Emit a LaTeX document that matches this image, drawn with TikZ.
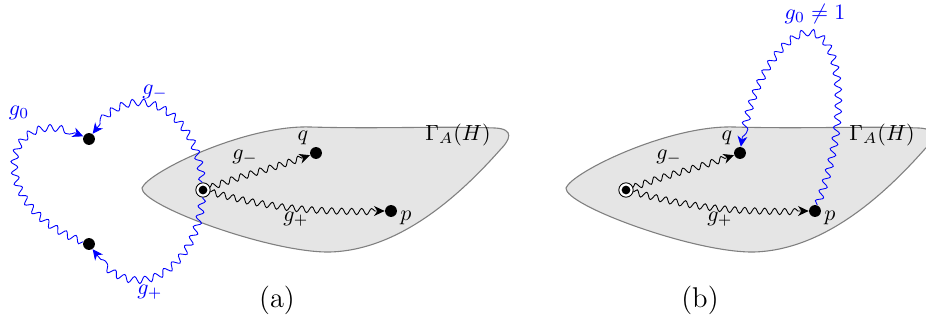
\documentclass[tikz,border=0pt]{standalone}
\usepackage{amsmath,amssymb}
\usepackage{tikz}
\usetikzlibrary{arrows.meta,decorations.pathmorphing}

\begin{document}
\begin{tikzpicture}[x=0.016cm, y=-0.016cm,
    dot/.style={circle, fill=black, inner sep=0pt, minimum size=1.9mm},
    basept/.style={circle, draw=black, fill=white, inner sep=0pt, minimum size=2.3mm,
        path picture={\fill[black] (path picture bounding box.center) circle (0.7mm);}},
    wave/.style={decorate, decoration={snake, amplitude=0.5mm, segment length=1.6mm, post length=1.3mm},
        -{Stealth[length=1.7mm, width=1.6mm]}},
    bluewave/.style={wave, blue, decoration={segment length=1.75mm, amplitude=0.55mm}},
    region/.style={fill=gray!20, draw=black!50, line width=0.5pt},
    caption/.style={font=\fontsize{13}{15}\selectfont},
]
    \useasboundingbox (0,0) rectangle (926,329);

    % Regions Gamma_A(H)
    \foreach \dx in {0,424} {
        \draw[region, shift={(\dx,0)}] (142,188) .. controls (148,172) and (245,125) .. (310,127)
            .. controls (380,129) and (440,126) .. (495,128)
            .. controls (515,129) and (510,140) .. (500,150)
            .. controls (460,195) and (400,250) .. (330,252)
            .. controls (270,253) and (140,205) .. cycle;
        \node (gam\dx) at (458+\dx,135) {$\Gamma_A(H)$};
    }

    % (a)
    \node[dot] (u) at (89,139) {};
    \node[dot] (l) at (89,244) {};
    \node[basept] (o) at (203,190) {};
    \node[dot] (q) at (316,153) {};
    \node[dot] (p) at (391,211) {};

    \draw[wave] (o) to[out=20,in=200] (q);
    \draw[wave] (o) to[out=-15,in=180] (p);
    \draw[bluewave] (o) to[out=95,in=55,looseness=1.5] (u);
    \draw[bluewave] (o) to[out=-95,in=-55,looseness=1.5] (l);
    \draw[bluewave] (l) .. controls (-15,205) and (5,100) .. (u);

    \node (lq) at (303,138) {$q$};
    \node (lp) at (406,218) {$p$};
    \node (lgm) at (245,157) {$g_-$};
    \node (lgp) at (296,219) {$g_+$};
    \node[blue] (lg0) at (19,113) {$g_0$};
    \node[blue] (lbm) at (155,92) {$g_-$};
    \node[blue] (lbp) at (150,292) {$g_+$};
    \node[caption] (capa) at (277,300) {(a)};

    % (b)
    \node[basept] (o2) at (626,190) {};
    \node[dot] (q2) at (740,153) {};
    \node[dot] (p2) at (815,211) {};

    \draw[wave] (o2) to[out=20,in=200] (q2);
    \draw[wave] (o2) to[out=-15,in=180] (p2);
    \draw[bluewave] (p2) .. controls (850,120) and (840,35) .. (808,35)
        .. controls (785,35) and (750,80) .. (q2);

    \node (lq2) at (727,138) {$q$};
    \node (lp2) at (830,218) {$p$};
    \node (lgm2) at (669,157) {$g_-$};
    \node (lgp2) at (720,219) {$g_+$};
    \node[blue] (lg02) at (815,14) {$g_0 \neq 1$};
    \node[caption] (capb) at (700,300) {(b)};
\end{tikzpicture}
\end{document}
